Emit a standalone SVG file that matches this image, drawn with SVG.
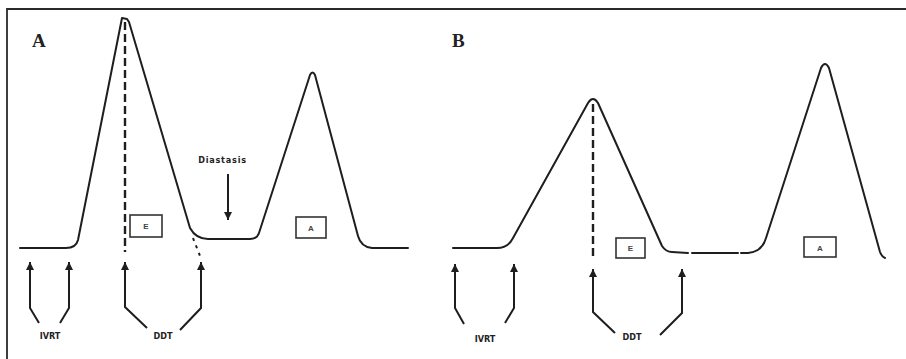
<svg xmlns="http://www.w3.org/2000/svg" width="906" height="359" viewBox="0 0 906 359">
<style>
.curve{fill:none;stroke:#1e1e1e;stroke-width:2;stroke-linejoin:round;stroke-linecap:round}
.dash{fill:none;stroke:#1e1e1e;stroke-width:2.4;stroke-dasharray:8 4}
.dot{fill:none;stroke:#1e1e1e;stroke-width:2;stroke-dasharray:3 5}
.arr{fill:none;stroke:#1e1e1e;stroke-width:2;marker-end:url(#ah)}
.box{fill:#fff;stroke:#333;stroke-width:1.6}
.panel{font-family:"Liberation Serif",serif;font-weight:bold;font-size:19px;fill:#222}
.lbl{font-family:"DejaVu Sans Condensed","DejaVu Sans",sans-serif;font-stretch:condensed;font-weight:bold;font-size:9px;fill:#222}
.blbl{font-family:"Liberation Sans",sans-serif;font-weight:bold;font-size:8px;fill:#444}
</style>
<defs>
<marker id="ah" viewBox="0 0 10 10" refX="10" refY="5" markerWidth="11" markerHeight="8" markerUnits="userSpaceOnUse" orient="auto">
<path d="M0,0 L10,5 L0,10 z" fill="#1e1e1e"/>
</marker>
</defs>
<rect width="906" height="359" fill="#fff"/>
<g id="frame">
<path d="M7,359 L7,9 L906,9" fill="none" stroke="#2a2a2a" stroke-width="1.8"/>
</g>
<g id="panelA">
<text class="panel" x="32" y="47">A</text>
<path class="curve" d="M20,248 L66,248 Q76,248 78,240 L122,18 L127,19 L129,22 L190,228 Q196,239 208,239 L250,239 Q257,239 259,233 L310,75 Q312.5,70 315,75 L358,236 Q361,247 372,248 L408,248"/>
<path class="dash" d="M125,22 L125,252"/>
<path class="dot" d="M193,238 L200,256"/>
<g id="boxEA"><rect class="box" x="130" y="215" width="32" height="22"/><text class="blbl" x="146" y="229" text-anchor="middle">E</text></g>
<g id="boxAA"><rect class="box" x="296" y="217" width="30" height="21"/><text class="blbl" x="311" y="230.5" text-anchor="middle">A</text></g>
<g id="diastasis"><text class="lbl" x="222.5" y="163" text-anchor="middle" letter-spacing="0.8">Diastasis</text></g>
<text class="lbl" x="50" y="339" text-anchor="middle">IVRT</text>
<text class="lbl" x="163" y="339" text-anchor="middle">DDT</text>
</g>
<g id="panelB">
<text class="panel" x="452" y="47">B</text>
<path class="curve" d="M453,248 L497,248 Q508,248 513,238 L588,103 Q593,95 598,103 L662,246 Q666,252 672,252 L688,253"/>
<path class="curve" d="M692,253 L738,253"/>
<path class="curve" d="M741,253 L748,253 Q762,252 766,238 L821,68 Q825,60 829,68 L880,252 Q882,257 885,258"/>
<path class="dash" d="M593,104 L593,257"/>
<g id="boxEB"><rect class="box" x="616" y="238" width="29" height="20"/><text class="blbl" x="630.5" y="251" text-anchor="middle">E</text></g>
<g id="boxAB"><rect class="box" x="804" y="237" width="32" height="20"/><text class="blbl" x="820" y="250.5" text-anchor="middle">A</text></g>
<text class="lbl" x="485" y="342" text-anchor="middle">IVRT</text>
<text class="lbl" x="632" y="340" text-anchor="middle">DDT</text>
</g>
<g id="connectors">
<path class="arr" d="M228,174 L228,220"/>
<path class="arr" d="M39,323 L30,308 L30,262"/>
<path class="arr" d="M60,323 L69,308 L69,262"/>
<path class="arr" d="M147,328 L125,307 L125,262"/>
<path class="arr" d="M180,330 L201,308 L201,262"/>
<path class="arr" d="M464,324 L455,308 L455,264"/>
<path class="arr" d="M505,323 L514,308 L514,264"/>
<path class="arr" d="M615,333 L593,312 L593,269"/>
<path class="arr" d="M660,335 L682,313 L682,269"/>
</g>
</svg>
